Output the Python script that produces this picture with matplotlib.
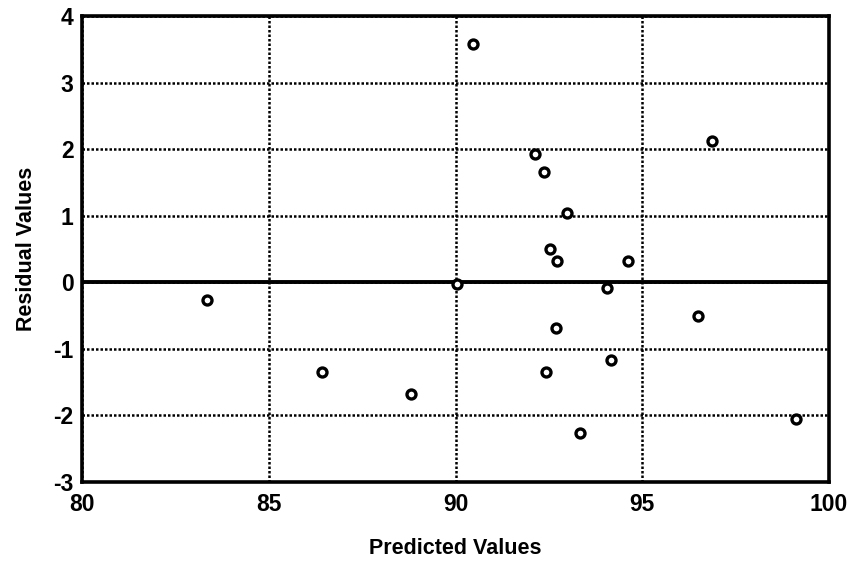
import numpy as np
import matplotlib
matplotlib.use("Agg")
import matplotlib.pyplot as plt

predicted = [83.34, 86.42, 88.80, 90.05, 90.48, 92.14, 92.38, 92.99, 92.54, 92.73,
             94.63, 94.06, 96.87, 96.50, 92.70, 94.17, 92.41, 99.12, 93.34]
residual = [-0.27, -1.35, -1.68, -0.03, 3.58, 1.92, 1.65, 1.04, 0.50, 0.32,
            0.32, -0.08, 2.12, -0.50, -0.68, -1.17, -1.35, -2.05, -2.27]

x_ticks = [80, 85, 90, 95, 100]
y_ticks = [-3, -2, -1, 0, 1, 2, 3, 4]

plt.rcParams['font.family'] = ['Liberation Sans', 'DejaVu Sans']
plt.rcParams['axes.unicode_minus'] = False

fig = plt.figure(figsize=(8.56, 5.62), dpi=100)
ax = fig.add_axes([0.0958, 0.1423, 0.8727, 0.8292])

ax.grid(True, color='black', linestyle=(0, (1, 0.8)), linewidth=1.8)
ax.axhline(0, color='black', linewidth=2.8, zorder=2)
ax.scatter(predicted, residual, s=42, facecolors='white', edgecolors='black',
           linewidths=2.4, zorder=3)

ax.set_xlim(80, 100)
ax.set_ylim(-3, 4)
ax.set_xticks(x_ticks)
ax.set_yticks(y_ticks)
ax.tick_params(axis='x', length=0, labelsize=16.5, pad=8)
ax.tick_params(axis='y', length=0, labelsize=16.5, pad=6)
for lbl in ax.get_xticklabels() + ax.get_yticklabels():
    lbl.set_fontweight('bold')

for s in ax.spines.values():
    s.set_linewidth(2.6)

ax.set_xlabel('Predicted Values', fontsize=15.5, fontweight='bold', labelpad=16)
ax.set_ylabel('Residual Values', fontsize=15.5, fontweight='bold', labelpad=12)

fig.savefig('out.png', dpi=100)
